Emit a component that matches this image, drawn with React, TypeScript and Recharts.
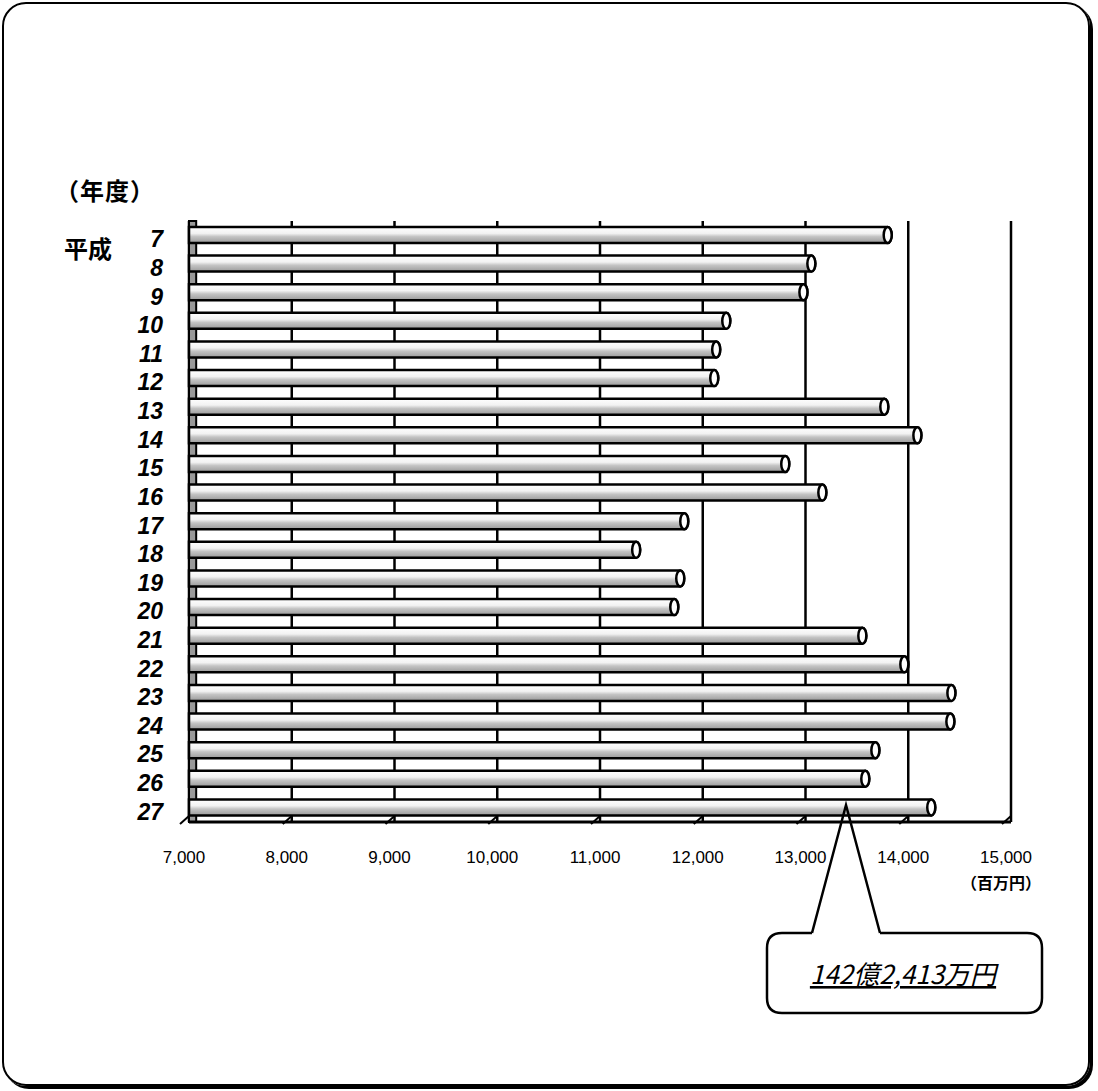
import React from 'react'
import {
  BarChart,
  Bar,
  XAxis,
  YAxis,
  CartesianGrid,
  ReferenceArea,
} from 'recharts'

const years = ['7', '8', '9', '10', '11', '12', '13', '14', '15', '16', '17', '18', '19', '20', '21', '22', '23', '24', '25', '26', '27']
const amounts = [13800, 13057, 12980, 12229, 12131, 12112, 13767, 14089, 12803, 13164, 11820, 11352, 11781, 11723, 13553, 13962, 14420, 14410, 13680, 13582, 14224]
const xTicks = [7000, 8000, 9000, 10000, 11000, 12000, 13000, 14000, 15000]

const data = years.map((y, i) => ({ year: y, amount: amounts[i] }))

const jpFont = '"Noto Sans CJK JP", "Liberation Sans", sans-serif'
const numFont = '"Liberation Sans", Arial, sans-serif'

function Cylinder(props: any) {
  const { x, y, width, height } = props
  if (width <= 0) return null
  const rx = 4
  const r = height / 2
  return (
    <g>
      <path
        d={`M${x},${y} L${x + width},${y} A${rx},${r} 0 0 1 ${x + width},${y + height} L${x},${y + height} Z`}
        fill="url(#cyl)"
        stroke="#000"
        strokeWidth={2.5}
      />
      <ellipse cx={x + width} cy={y + r} rx={rx} ry={r} fill="#fff" stroke="#000" strokeWidth={2.5} />
    </g>
  )
}

function XTick(props: any) {
  const { x, y, payload } = props
  return (
    <g>
      <line x1={x} y1={y - 6} x2={x - 9} y2={y + 2} stroke="#000" strokeWidth={2} />
      <text x={x - 5} y={y + 41} textAnchor="middle" fontFamily={numFont} fontSize={17} fill="#000">
        {payload.value.toLocaleString('en-US')}
      </text>
    </g>
  )
}

function YTick(props: any) {
  const { x, y, payload } = props
  return (
    <text
      x={x - 26}
      y={y + 12}
      textAnchor="end"
      fontFamily={numFont}
      fontSize={23}
      fontWeight="bold"
      fontStyle="italic"
      fill="#000"
    >
      {payload.value}
    </text>
  )
}

export default function App() {
  return (
    <div style={{ position: 'absolute', left: 0, top: 0, width: 1098, height: 1091, background: '#fff' }}>
      <div
        style={{
          position: 'absolute',
          left: 2,
          top: 2,
          width: 1084,
          height: 1080,
          border: '2px solid #000',
          borderRadius: 24,
          boxShadow: '3px 3px 0 #000',
        }}
      />
      <div style={{ position: 'absolute', left: 55, top: 172, fontFamily: jpFont, fontWeight: 'bold', fontSize: 24, letterSpacing: 1 }}>
        （年度）
      </div>
      <div style={{ position: 'absolute', left: 64, top: 230, fontFamily: jpFont, fontWeight: 'bold', fontSize: 24 }}>
        平成
      </div>
      <div style={{ position: 'absolute', left: 961, top: 870, fontFamily: jpFont, fontWeight: 'bold', fontSize: 16 }}>
        （百万円）
      </div>
      <div style={{ position: 'absolute', left: 0, top: 0 }}>
        <BarChart
          width={1098}
          height={1091}
          data={data}
          layout="vertical"
          barSize={16}
          margin={{ top: 221, right: 87, left: 129, bottom: 209 }}
        >
          <defs>
            <linearGradient id="cyl" x1="0" y1="0" x2="0" y2="1">
              <stop offset="0%" stopColor="#ffffff" />
              <stop offset="40%" stopColor="#f2f2f2" />
              <stop offset="60%" stopColor="#c4c4c4" />
              <stop offset="100%" stopColor="#9a9a9a" />
            </linearGradient>
          </defs>
          <CartesianGrid horizontal={false} stroke="#000" strokeWidth={2.5} />
          <ReferenceArea x1={7000} x2={7070} fill="#999" fillOpacity={1} stroke="#000" strokeWidth={2} />
          <XAxis
            type="number"
            domain={[7000, 15000]}
            ticks={xTicks}
            height={60}
            tickSize={0}
            tickMargin={0}
            axisLine={{ stroke: '#000', strokeWidth: 3 }}
            tick={<XTick />}
            interval={0}
          />
          <YAxis
            type="category"
            dataKey="year"
            width={60}
            tickSize={0}
            tickMargin={0}
            axisLine={false}
            tick={<YTick />}
            interval={0}
          />
          <Bar dataKey="amount" shape={<Cylinder />} isAnimationActive={false} />
        </BarChart>
      </div>
      <svg width={1098} height={1091} style={{ position: 'absolute', left: 0, top: 0, pointerEvents: 'none' }}>
        <path d="M812,933 L846,805 L880,933" fill="none" stroke="#000" strokeWidth={2.5} />
        <path
          d="M782,933 L812,933 M880,933 L1027,933 Q1042,933 1042,948 L1042,998 Q1042,1013 1027,1013 L782,1013 Q767,1013 767,998 L767,948 Q767,933 782,933"
          fill="none"
          stroke="#000"
          strokeWidth={2.5}
        />
        <text
          x={903}
          y={984}
          textAnchor="middle"
          fontFamily={jpFont}
          fontStyle="italic"
          fontSize={26}
          textDecoration="underline"
          fill="#000"
        >
          142億2,413万円
        </text>
      </svg>
    </div>
  )
}
